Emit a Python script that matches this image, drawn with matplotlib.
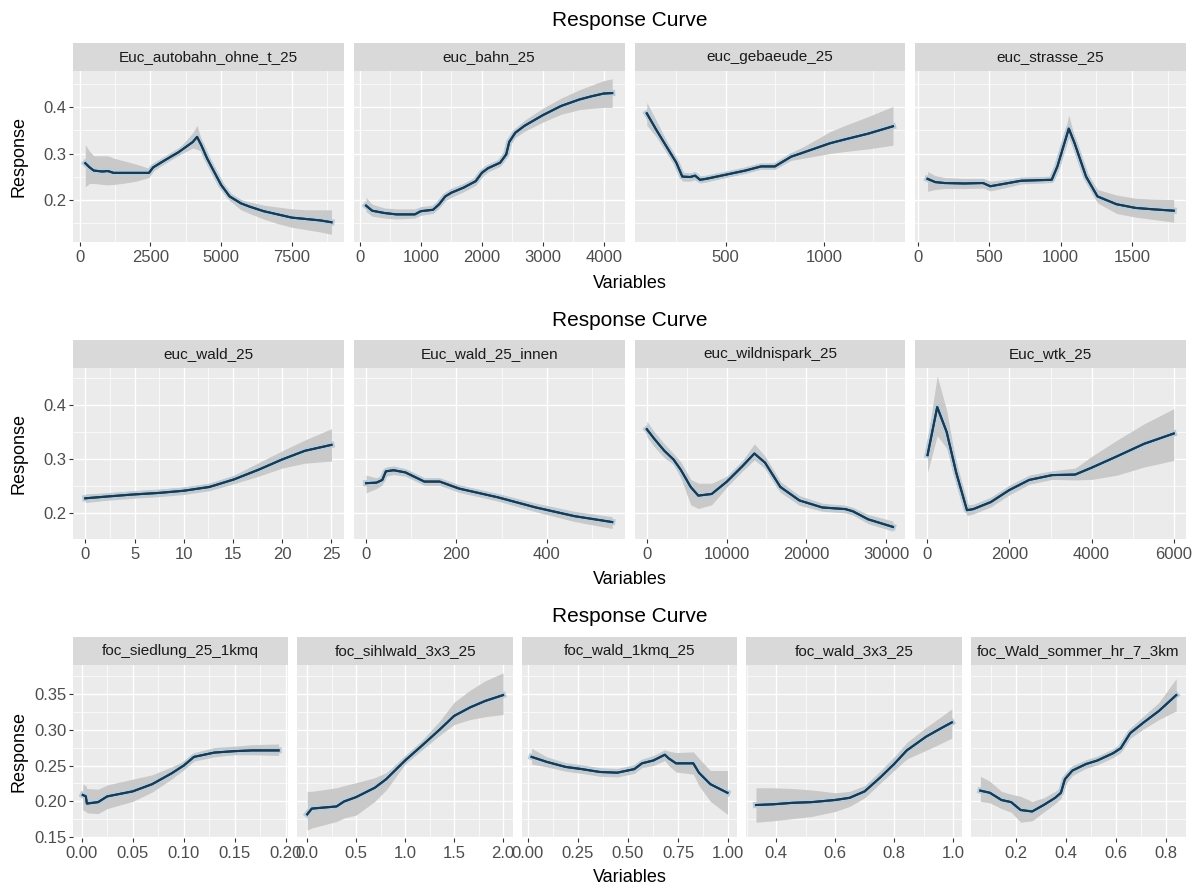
import matplotlib.pyplot as plt
import matplotlib.patheffects as pe
import numpy as np
from matplotlib.patches import Rectangle

plt.rcParams['font.family'] = ['Liberation Sans', 'DejaVu Sans']

# ---------- data ----------
# row 1
autobahn_x = [200, 350, 500, 800, 1000, 1200, 1500, 2000, 2450, 2600, 3000, 3500, 4000, 4150, 4300, 4500, 4800,
              5000, 5300, 5700, 6000, 6500, 7000, 7500, 8000, 8500, 8900]
autobahn_y = [0.279, 0.27, 0.263, 0.261, 0.262, 0.258, 0.258, 0.258, 0.258, 0.27, 0.285, 0.303, 0.325, 0.336, 0.318,
              0.29, 0.255, 0.232, 0.207, 0.192, 0.185, 0.175, 0.168, 0.161, 0.158, 0.155, 0.151]
autobahn_lo = [0.228, 0.235, 0.235, 0.233, 0.232, 0.233, 0.235, 0.24, 0.248, 0.262, 0.278, 0.296, 0.312, 0.309, 0.305,
               0.281, 0.247, 0.224, 0.198, 0.178, 0.17, 0.158, 0.148, 0.14, 0.135, 0.13, 0.125]
autobahn_hi = [0.319, 0.305, 0.295, 0.295, 0.295, 0.29, 0.285, 0.277, 0.268, 0.278, 0.292, 0.31, 0.345, 0.361, 0.33,
               0.298, 0.262, 0.24, 0.215, 0.2, 0.195, 0.188, 0.184, 0.18, 0.178, 0.178, 0.178]

bahn_x = [100, 200, 400, 600, 900, 1000, 1200, 1300, 1400, 1500, 1700, 1900, 2000, 2100, 2300, 2400, 2450, 2550,
          2700, 3000, 3300, 3600, 3800, 4000, 4140]
bahn_y = [0.187, 0.176, 0.171, 0.168, 0.168, 0.175, 0.178, 0.19, 0.207, 0.215, 0.226, 0.24, 0.258, 0.268, 0.28, 0.298,
          0.325, 0.345, 0.36, 0.383, 0.403, 0.417, 0.424, 0.43, 0.431]
bahn_lo = [0.174, 0.164, 0.16, 0.158, 0.16, 0.166, 0.17, 0.182, 0.198, 0.205, 0.217, 0.231, 0.249, 0.26, 0.272, 0.29,
           0.317, 0.335, 0.348, 0.368, 0.385, 0.395, 0.398, 0.4, 0.4]
bahn_hi = [0.205, 0.19, 0.182, 0.18, 0.18, 0.185, 0.188, 0.2, 0.216, 0.225, 0.235, 0.249, 0.267, 0.276, 0.288, 0.306,
           0.333, 0.355, 0.372, 0.398, 0.42, 0.438, 0.448, 0.458, 0.462]

gebaeude_x = [100, 150, 200, 250, 280, 320, 345, 370, 400, 500, 600, 680, 750, 832, 900, 1028, 1100, 1223, 1349]
gebaeude_y = [0.387, 0.35, 0.315, 0.28, 0.25, 0.249, 0.252, 0.243, 0.245, 0.254, 0.263, 0.272, 0.272, 0.293, 0.303,
              0.322, 0.33, 0.343, 0.359]
gebaeude_lo = [0.361, 0.335, 0.302, 0.27, 0.24, 0.24, 0.243, 0.236, 0.238, 0.248, 0.257, 0.266, 0.266, 0.285, 0.29,
               0.3, 0.304, 0.31, 0.318]
gebaeude_hi = [0.411, 0.37, 0.328, 0.29, 0.26, 0.258, 0.261, 0.251, 0.252, 0.26, 0.269, 0.278, 0.279, 0.302, 0.316,
               0.347, 0.36, 0.38, 0.402]

strasse_x = [66, 120, 185, 322, 455, 506, 616, 723, 937, 977, 1057, 1098, 1178, 1258, 1392, 1526, 1650, 1793]
strasse_y = [0.245, 0.238, 0.236, 0.235, 0.236, 0.229, 0.235, 0.241, 0.243, 0.272, 0.354, 0.322, 0.25, 0.207, 0.19,
             0.182, 0.179, 0.176]
strasse_lo = [0.218, 0.222, 0.224, 0.224, 0.225, 0.219, 0.226, 0.234, 0.237, 0.264, 0.336, 0.31, 0.238, 0.193, 0.17,
              0.162, 0.157, 0.151]
strasse_hi = [0.261, 0.252, 0.248, 0.246, 0.246, 0.24, 0.244, 0.248, 0.25, 0.281, 0.383, 0.335, 0.262, 0.222, 0.21,
              0.203, 0.201, 0.2]

# row 2
wald_x = [0, 2, 4.8, 7.5, 10, 12.6, 15.1, 17.6, 20, 22.3, 25]
wald_y = [0.227, 0.23, 0.234, 0.237, 0.241, 0.248, 0.262, 0.28, 0.299, 0.315, 0.326]
wald_lo = [0.219, 0.223, 0.227, 0.23, 0.234, 0.241, 0.254, 0.268, 0.283, 0.292, 0.296]
wald_hi = [0.235, 0.237, 0.241, 0.244, 0.248, 0.255, 0.27, 0.293, 0.315, 0.335, 0.356]

innen_x = [0, 23, 36, 44, 61, 87, 129, 163, 206, 291, 376, 461, 545]
innen_y = [0.255, 0.256, 0.261, 0.277, 0.279, 0.275, 0.258, 0.258, 0.245, 0.229, 0.21, 0.194, 0.183]
innen_lo = [0.237, 0.245, 0.252, 0.268, 0.271, 0.268, 0.251, 0.251, 0.238, 0.222, 0.202, 0.184, 0.171]
innen_hi = [0.27, 0.265, 0.27, 0.285, 0.287, 0.282, 0.265, 0.265, 0.252, 0.236, 0.218, 0.203, 0.193]

wildnis_x = [0, 950, 2200, 3340, 4250, 5500, 6450, 8130, 10040, 11950, 13480, 14820, 16740, 19130, 22000, 24880,
             25820, 27750, 30850]
wildnis_y = [0.355, 0.337, 0.315, 0.299, 0.28, 0.248, 0.232, 0.235, 0.258, 0.286, 0.31, 0.293, 0.248, 0.223, 0.21,
             0.207, 0.203, 0.188, 0.174]
wildnis_lo = [0.341, 0.322, 0.302, 0.29, 0.265, 0.215, 0.208, 0.215, 0.248, 0.277, 0.298, 0.282, 0.238, 0.214, 0.203,
              0.2, 0.196, 0.18, 0.166]
wildnis_hi = [0.37, 0.35, 0.328, 0.31, 0.295, 0.262, 0.255, 0.255, 0.268, 0.296, 0.328, 0.305, 0.258, 0.232, 0.218,
              0.214, 0.21, 0.197, 0.185]

wtk_x = [5, 240, 470, 705, 965, 1120, 1545, 1990, 2480, 3040, 3600, 4010, 4625, 5280, 6000]
wtk_y = [0.307, 0.396, 0.35, 0.274, 0.205, 0.207, 0.22, 0.242, 0.261, 0.27, 0.271, 0.284, 0.305, 0.328, 0.347]
wtk_lo = [0.275, 0.343, 0.32, 0.258, 0.195, 0.198, 0.211, 0.233, 0.253, 0.262, 0.261, 0.262, 0.27, 0.285, 0.297]
wtk_hi = [0.336, 0.454, 0.39, 0.29, 0.215, 0.216, 0.229, 0.251, 0.27, 0.278, 0.283, 0.305, 0.335, 0.365, 0.393]

# row 3
siedlung_x = [0.001, 0.004, 0.005, 0.016, 0.025, 0.05, 0.069, 0.088, 0.1, 0.11, 0.13, 0.15, 0.167, 0.193]
siedlung_y = [0.209, 0.207, 0.197, 0.199, 0.207, 0.214, 0.224, 0.239, 0.25, 0.262, 0.268, 0.27, 0.271, 0.271]
siedlung_lo = [0.188, 0.186, 0.184, 0.183, 0.19, 0.2, 0.213, 0.231, 0.244, 0.256, 0.262, 0.265, 0.265, 0.264]
siedlung_hi = [0.224, 0.222, 0.218, 0.217, 0.223, 0.231, 0.237, 0.248, 0.256, 0.268, 0.275, 0.277, 0.279, 0.28]

sihl_x = [0.0, 0.047, 0.3, 0.378, 0.5, 0.69, 0.807, 1.0, 1.158, 1.353, 1.5, 1.665, 1.82, 2.0]
sihl_y = [0.182, 0.19, 0.193, 0.2, 0.206, 0.219, 0.231, 0.257, 0.276, 0.3, 0.319, 0.331, 0.34, 0.348]
sihl_lo = [0.16, 0.163, 0.172, 0.177, 0.181, 0.2, 0.216, 0.252, 0.27, 0.292, 0.307, 0.314, 0.318, 0.321]
sihl_hi = [0.214, 0.214, 0.219, 0.222, 0.226, 0.233, 0.24, 0.262, 0.283, 0.312, 0.338, 0.355, 0.368, 0.379]

w1km_x = [0.02, 0.096, 0.19, 0.27, 0.36, 0.447, 0.532, 0.57, 0.627, 0.684, 0.703, 0.74, 0.826, 0.854, 0.911, 0.996]
w1km_y = [0.262, 0.255, 0.248, 0.245, 0.241, 0.24, 0.245, 0.253, 0.257, 0.265, 0.26, 0.253, 0.253, 0.24, 0.224, 0.212]
w1km_lo = [0.252, 0.248, 0.242, 0.239, 0.235, 0.234, 0.239, 0.247, 0.25, 0.257, 0.25, 0.241, 0.238, 0.222, 0.2, 0.182]
w1km_hi = [0.274, 0.262, 0.254, 0.251, 0.247, 0.246, 0.251, 0.259, 0.264, 0.272, 0.27, 0.268, 0.269, 0.26, 0.243,
           0.243]

w3x3_x = [0.331, 0.39, 0.454, 0.52, 0.6, 0.649, 0.7, 0.752, 0.8, 0.843, 0.908, 0.96, 0.996]
w3x3_y = [0.195, 0.196, 0.198, 0.199, 0.202, 0.205, 0.214, 0.233, 0.252, 0.271, 0.29, 0.302, 0.31]
w3x3_lo = [0.171, 0.173, 0.176, 0.179, 0.186, 0.193, 0.205, 0.225, 0.243, 0.259, 0.271, 0.281, 0.288]
w3x3_hi = [0.219, 0.219, 0.218, 0.216, 0.212, 0.214, 0.222, 0.242, 0.262, 0.282, 0.303, 0.318, 0.329]

sommer_x = [0.059, 0.097, 0.143, 0.182, 0.22, 0.266, 0.312, 0.358, 0.381, 0.397, 0.427, 0.481, 0.527, 0.589, 0.62,
            0.658, 0.712, 0.773, 0.842]
sommer_y = [0.215, 0.212, 0.202, 0.199, 0.188, 0.186, 0.195, 0.205, 0.212, 0.231, 0.243, 0.252, 0.257, 0.267, 0.274,
            0.295, 0.31, 0.326, 0.348]
sommer_lo = [0.2, 0.198, 0.19, 0.185, 0.171, 0.173, 0.185, 0.197, 0.204, 0.223, 0.236, 0.246, 0.251, 0.261, 0.268,
             0.288, 0.301, 0.314, 0.326]
sommer_hi = [0.235, 0.228, 0.214, 0.21, 0.207, 0.2, 0.205, 0.214, 0.22, 0.239, 0.25, 0.258, 0.263, 0.273, 0.28,
             0.302, 0.319, 0.338, 0.371]

# ---------- panel definitions ----------
rows = [
    {'top': 71, 'bottom': 242, 'title_y': 20, 'xlab_y': 283, 'gap': 10,
     'yticks': [0.2, 0.3, 0.4], 'ylabels': ['0.2', '0.3', '0.4'],
     'panels': [
         ('Euc_autobahn_ohne_t_25', autobahn_x, autobahn_y, autobahn_lo, autobahn_hi,
          [0, 2500, 5000, 7500], ['0', '2500', '5000', '7500']),
         ('euc_bahn_25', bahn_x, bahn_y, bahn_lo, bahn_hi,
          [0, 1000, 2000, 3000, 4000], ['0', '1000', '2000', '3000', '4000']),
         ('euc_gebaeude_25', gebaeude_x, gebaeude_y, gebaeude_lo, gebaeude_hi,
          [500, 1000], ['500', '1000']),
         ('euc_strasse_25', strasse_x, strasse_y, strasse_lo, strasse_hi,
          [0, 500, 1000, 1500], ['0', '500', '1000', '1500']),
     ]},
    {'top': 368, 'bottom': 539, 'title_y': 320, 'xlab_y': 579, 'gap': 10,
     'yticks': [0.2, 0.3, 0.4], 'ylabels': ['0.2', '0.3', '0.4'],
     'panels': [
         ('euc_wald_25', wald_x, wald_y, wald_lo, wald_hi,
          [0, 5, 10, 15, 20, 25], ['0', '5', '10', '15', '20', '25']),
         ('Euc_wald_25_innen', innen_x, innen_y, innen_lo, innen_hi,
          [0, 200, 400], ['0', '200', '400']),
         ('euc_wildnispark_25', wildnis_x, wildnis_y, wildnis_lo, wildnis_hi,
          [0, 10000, 20000, 30000], ['0', '10000', '20000', '30000']),
         ('Euc_wtk_25', wtk_x, wtk_y, wtk_lo, wtk_hi,
          [0, 2000, 4000, 6000], ['0', '2000', '4000', '6000']),
     ]},
    {'top': 665, 'bottom': 838, 'title_y': 617, 'xlab_y': 877, 'gap': 9,
     'yticks': [0.15, 0.20, 0.25, 0.30, 0.35], 'ylabels': ['0.15', '0.20', '0.25', '0.30', '0.35'],
     'panels': [
         ('foc_siedlung_25_1kmq', siedlung_x, siedlung_y, siedlung_lo, siedlung_hi,
          [0.0, 0.05, 0.10, 0.15, 0.20], ['0.00', '0.05', '0.10', '0.15', '0.20']),
         ('foc_sihlwald_3x3_25', sihl_x, sihl_y, sihl_lo, sihl_hi,
          [0.0, 0.5, 1.0, 1.5, 2.0], ['0.0', '0.5', '1.0', '1.5', '2.0']),
         ('foc_wald_1kmq_25', w1km_x, w1km_y, w1km_lo, w1km_hi,
          [0.0, 0.25, 0.5, 0.75, 1.0], ['0.00', '0.25', '0.50', '0.75', '1.00']),
         ('foc_wald_3x3_25', w3x3_x, w3x3_y, w3x3_lo, w3x3_hi,
          [0.4, 0.6, 0.8, 1.0], ['0.4', '0.6', '0.8', '1.0']),
         ('foc_Wald_sommer_hr_7_3km', sommer_x, sommer_y, sommer_lo, sommer_hi,
          [0.2, 0.4, 0.6, 0.8], ['0.2', '0.4', '0.6', '0.8']),
     ]},
]

W, H = 1198, 889
LEFT, RIGHT = 73, 1186
STRIP_H = 28

fig = plt.figure(figsize=(W / 100, H / 100), dpi=100)
fig.patch.set_facecolor('white')


def expand(lo, hi, frac=0.05):
    d = hi - lo
    return lo - d * frac, hi + d * frac


def minors(ticks, lim):
    # ggplot minor breaks: halfway between majors, one step past each end
    step = ticks[1] - ticks[0]
    cand = [ticks[0] - step / 2] + [t + step / 2 for t in ticks]
    return [c for c in cand if lim[0] <= c <= lim[1]]


for row in rows:
    n = len(row['panels'])
    pw = (RIGHT - LEFT - (n - 1) * row['gap']) / n
    ph = row['bottom'] - row['top']

    # shared y range of the row, ggplot style expansion
    ymin = min(min(p[3]) for p in row['panels'])
    ymax = max(max(p[4]) for p in row['panels'])
    ylim = expand(ymin, ymax)

    for i, (name, x, y, lo, hi, xt, xtl) in enumerate(row['panels']):
        x0 = LEFT + i * (pw + row['gap'])
        ax = fig.add_axes([x0 / W, 1 - row['bottom'] / H, pw / W, ph / H])
        ax.set_facecolor('#EBEBEB')
        for s in ax.spines.values():
            s.set_visible(False)

        ax.fill_between(x, lo, hi, color='#C9C9C9', lw=0, zorder=2)
        ax.plot(x, y, color='#1B3A4F', lw=1.5, zorder=3,
                path_effects=[pe.withStroke(linewidth=4.5, foreground='#B8CCDC'), pe.Normal()])

        xlim = expand(min(x), max(x))
        ax.set_xticks(xt)
        ax.set_xticklabels(xtl)
        ax.set_xticks(minors(xt, xlim), minor=True)
        ax.set_yticks(row['yticks'])
        ax.set_yticks(minors(row['yticks'], ylim), minor=True)
        ax.set_xlim(*xlim)
        ax.set_ylim(*ylim)

        ax.grid(which='major', color='white', lw=1.0)
        ax.grid(which='minor', color='white', lw=0.5)
        ax.set_axisbelow(True)
        ax.tick_params(which='major', length=3, width=0.8, color='#333333',
                       labelcolor='#4D4D4D', labelsize=12)
        ax.tick_params(axis='x', which='major', pad=3)
        ax.tick_params(axis='y', which='major', pad=1.5)
        ax.tick_params(which='minor', length=0)
        if i == 0:
            ax.set_yticklabels(row['ylabels'])
        else:
            ax.tick_params(axis='y', which='major', length=0, labelleft=False)

        # facet strip
        fig.add_artist(Rectangle((x0 / W, 1 - row['top'] / H), pw / W, STRIP_H / H,
                                 transform=fig.transFigure, facecolor='#D9D9D9', edgecolor='none'))
        fig.text((x0 + pw / 2) / W, 1 - (row['top'] - STRIP_H / 2) / H, name,
                 ha='center', va='center', fontsize=11, color='#1A1A1A')

    cx = (LEFT + RIGHT) / 2 / W
    fig.text(cx, 1 - row['title_y'] / H, 'Response Curve', ha='center', va='center', fontsize=15)
    fig.text(cx, 1 - row['xlab_y'] / H, 'Variables', ha='center', va='center', fontsize=13)
    fig.text(19 / W, 1 - (row['top'] + row['bottom']) / 2 / H, 'Response', rotation=90,
             ha='center', va='center', fontsize=13)

fig.savefig('out.png', dpi=100)
